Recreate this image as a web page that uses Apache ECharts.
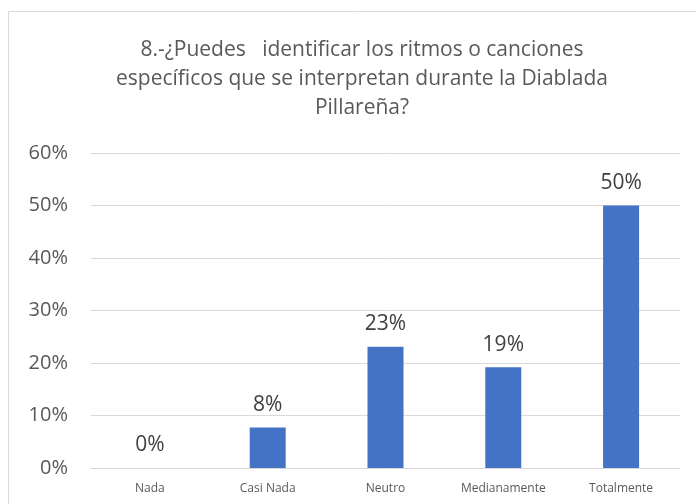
<!DOCTYPE html>
<html>
<head>
<meta charset="utf-8">
<script src="https://cdn.jsdelivr.net/npm/echarts@6/dist/echarts.min.js"></script>
<style>
	html, body { margin: 0; padding: 0; background: #fff; }
	#chart { width: 696px; height: 504px; }
</style>
</head>
<body>
<div id="chart"></div>
<script>
var categories = [ 'Nada', 'Casi Nada', 'Neutro', 'Medianamente', 'Totalmente' ];
var values = [ 0, 7.7, 23.1, 19.2, 50 ];
var titleText = '8.-¿Puedes   identificar los ritmos o canciones\nespecíficos que se interpretan durante la Diablada\nPillareña?';

var fontName = 'Open Sans';
var chart = echarts.init(document.getElementById('chart'));

var option = {
	animation : false,
	backgroundColor : '#fff',
	graphic : [ {
		type : 'rect',
		shape : { x : 8.5, y : 11.5, width : 720, height : 520 },
		style : { fill : 'none', stroke : '#d9d9d9', lineWidth : 1 },
		silent : true
	} ],
	title : {
		text : titleText,
		left : 357,
		top : 31,
		textAlign : 'center',
		textStyle : {
			fontFamily : fontName,
			fontSize : 21,
			fontWeight : 'normal',
			color : '#595959',
			lineHeight : 29
		}
	},
	grid : {
		left : 91,
		right : 16,
		top : 153,
		bottom : 36
	},
	xAxis : {
		type : 'category',
		data : categories,
		axisLine : { lineStyle : { color : '#d9d9d9', width : 1 } },
		axisTick : { show : false },
		axisLabel : {
			fontFamily : fontName,
			fontSize : 12,
			color : '#595959',
			margin : 15
		}
	},
	yAxis : {
		type : 'value',
		min : 0,
		max : 60,
		interval : 10,
		axisLine : { show : false },
		axisTick : { show : false },
		splitLine : { lineStyle : { color : '#d9d9d9', width : 1 } },
		axisLabel : {
			formatter : '{value}%',
			fontFamily : fontName,
			fontSize : 20,
			color : '#595959',
			margin : 23
		}
	},
	series : [ {
		type : 'bar',
		data : values,
		barWidth : 36,
		itemStyle : { color : '#4472C4' },
		label : {
			show : true,
			position : 'top',
			distance : 12,
			formatter : function(p) {
				return Math.round(p.value) + '%';
			},
			fontFamily : fontName,
			fontSize : 21,
			color : '#404040'
		}
	} ]
};

chart.setOption(option);
</script>
</body>
</html>
